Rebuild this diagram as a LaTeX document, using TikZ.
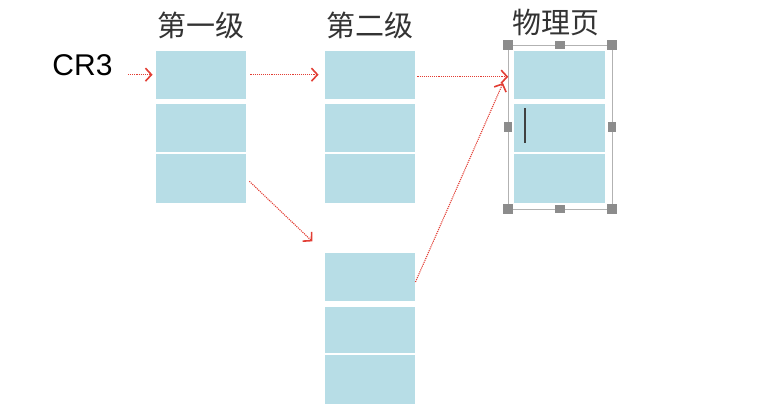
\documentclass[tikz,border=0pt]{standalone}
\usepackage{fontspec}
\setmainfont{Liberation Sans}
\newfontfamily\cjk{Noto Sans CJK SC}
\usetikzlibrary{arrows.meta}
\definecolor{cellblue}{RGB}{183,221,230}
\definecolor{ptrred}{RGB}{226,62,52}
\definecolor{handlegray}{RGB}{140,140,140}
\tikzset{cell/.style = {fill=cellblue, inner sep=0pt,
                        minimum width=90.5pt, minimum height=48pt},
         ptr/.style = {draw=ptrred, densely dotted, line width=1.1pt,
                       -{Straight Barb[length=6pt, width=13pt, line width=1.6pt]}},
         handle/.style = {fill=handlegray, inner sep=0pt, minimum size=10pt},
         title/.style = {font=\cjk\fontsize{29}{33}\selectfont, text=black!80}}

\begin{document}
\begin{tikzpicture}[x=1pt, y=-1pt]
    \useasboundingbox (0, 0) rectangle (759, 404);

    \node [title] (t1) at (201, 25) {第一级};
    \node [title] (t2) at (370, 25) {第二级};
    \node [title] (t3) at (556, 23) {物理页};
    \node [font=\fontsize{30}{34}\selectfont] (cr3) at (82.5, 65) {CR3};

    % first level
    \node [cell] (l1a) at (201, 74.7) {};
    \node [cell] (l1b) at (201, 128) {};
    \node [cell, minimum height=49.5pt] (l1c) at (201, 178.5) {};

    % second level, two tables
    \node [cell] (l2a) at (370, 74.7) {};
    \node [cell] (l2b) at (370, 128) {};
    \node [cell, minimum height=49.5pt] (l2c) at (370, 178.5) {};

    \node [cell, minimum height=47.4pt] (l3a) at (370, 277) {};
    \node [cell, minimum height=46.6pt] (l3b) at (370, 330) {};
    \node [cell, minimum height=49pt] (l3c) at (370, 379.5) {};

    % physical page
    \node [cell] (pg1) at (559.7, 74.7) {};
    \node [cell] (pg2) at (559.7, 128) {};
    \node [cell, minimum height=49.5pt] (pg3) at (559.7, 178.5) {};

    \draw [black!30] (508.3, 45) rectangle (612.3, 209.3);
    \node [handle] (hnw) at (508.3, 45) {};
    \node [handle, minimum height=8pt] (hn) at (560.3, 45) {};
    \node [handle] (hne) at (612.3, 45) {};
    \node [handle, minimum width=8pt] (hw) at (508.3, 127) {};
    \node [handle, minimum width=8pt] (he) at (612.3, 127) {};
    \node [handle] (hsw) at (508.3, 209.3) {};
    \node [handle, minimum height=8pt] (hs) at (560.3, 209.3) {};
    \node [handle] (hse) at (612.3, 209.3) {};
    \draw [line width=1.3pt, black!75] (525, 108) -- (525, 143);

    \coordinate (hit) at (503, 83);

    \draw [ptr, shorten <=12pt, shorten >=3pt] (cr3.east |- l1a.west) -- (l1a.west);
    \draw [ptr, shorten <=4pt, shorten >=6pt] (l1a.east) -- (l2a.west);
    \draw [ptr, shorten <=2pt, shorten >=6pt] ([yshift=-2pt]l2a.east) -- ([yshift=-2pt]pg1.west);
    \draw [ptr, shorten <=4pt, shorten >=17pt] (l1c.east) -- (l3a.north west);
    \draw [ptr] ([yshift=-5pt]l3a.east) -- (hit);
\end{tikzpicture}
\end{document}
